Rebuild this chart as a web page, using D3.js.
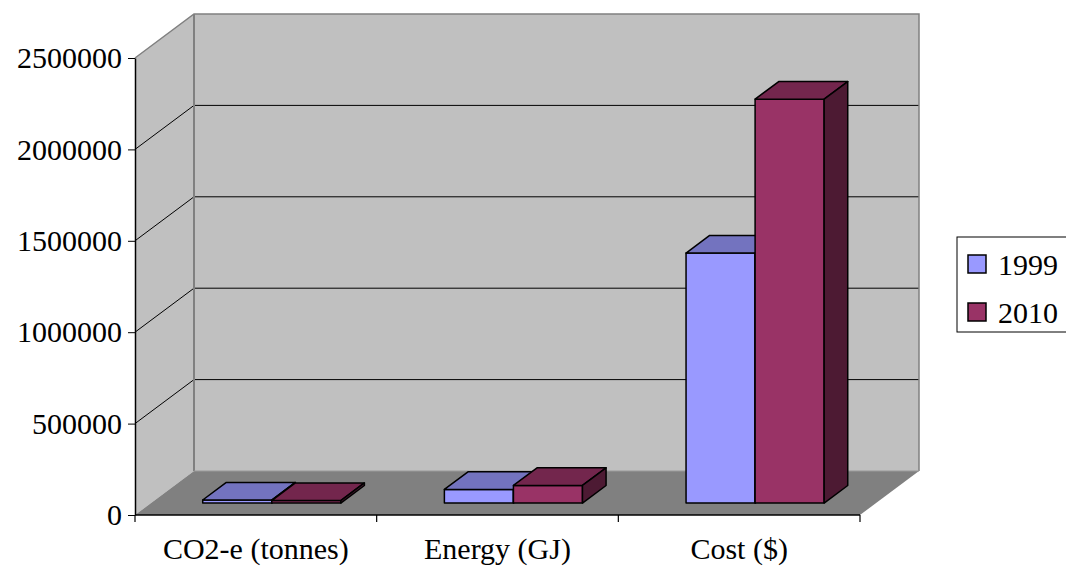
<!DOCTYPE html>
<html>
<head>
<meta charset="utf-8">
<script src="https://cdn.jsdelivr.net/npm/d3@7"></script>
<style>
  html, body { margin: 0; padding: 0; background: #fff; }
  svg { display: block; }
</style>
</head>
<body>
<svg id="chart" width="1066" height="567"></svg>
<script>
// Chart data
const categories = ["CO2-e (tonnes)", "Energy (GJ)", "Cost ($)"];
const years = ["1999", "2010"];
const values1999 = [17000, 75000, 1368000];
const values2010 = [14000, 97000, 2210000];
const yTicks = [0, 500000, 1000000, 1500000, 2000000, 2500000];

const seriesValues = [values1999, values2010];
const faceColors = {
  "1999": { front: "#9999FF", top: "#7373BF", side: "#4D4D80" },
  "2010": { front: "#993366", top: "#73264D", side: "#4D1A33" }
};
const FONT = "'Liberation Serif', 'Times New Roman', Times, 'DejaVu Serif', serif";

const svg = d3.select("#chart").attr("font-family", FONT);

// Plot geometry: front plane and depth offset of the 3D box
const plotLeft = 135, plotRight = 860, plotBottom = 515, plotTop = 58;
const depth = { dx: 59, dy: -44 };
const barFront = 0.27, barBack = 0.67;   // bar placement along the depth

const y = d3.scaleLinear().domain([0, 2500000]).range([plotBottom, plotTop]);
const x = d3.scaleBand().domain(categories).range([plotLeft, plotRight]);
const xs = d3.scaleBand().domain(years).range([0, x.bandwidth()]).paddingOuter(0.75);

const g = svg.append("g");

// Side wall, back wall and floor
const backY = v => y(v) + depth.dy;
g.append("polygon")
  .attr("points", [[plotLeft, plotBottom], [plotLeft, plotTop], [plotLeft + depth.dx, plotTop + depth.dy], [plotLeft + depth.dx, plotBottom + depth.dy]].join(" "))
  .attr("fill", "#C0C0C0");
g.append("rect")
  .attr("x", plotLeft + depth.dx).attr("y", plotTop + depth.dy)
  .attr("width", plotRight - plotLeft).attr("height", plotBottom - plotTop)
  .attr("fill", "#C0C0C0");
g.append("polygon")
  .attr("points", [[plotLeft, plotBottom], [plotRight, plotBottom], [plotRight + depth.dx, plotBottom + depth.dy], [plotLeft + depth.dx, plotBottom + depth.dy]].join(" "))
  .attr("fill", "#808080");

// Gridlines on side and back walls
const inner = yTicks.filter(v => v > 0 && v < 2500000);
g.selectAll("line.grid-side").data(inner).join("line")
  .attr("class", "grid-side")
  .attr("x1", plotLeft).attr("y1", d => y(d))
  .attr("x2", plotLeft + depth.dx).attr("y2", d => backY(d))
  .attr("stroke", "#000").attr("stroke-width", 1);
g.selectAll("line.grid-back").data(inner).join("line")
  .attr("class", "grid-back")
  .attr("x1", plotLeft + depth.dx).attr("y1", d => backY(d))
  .attr("x2", plotRight + depth.dx).attr("y2", d => backY(d))
  .attr("stroke", "#000").attr("stroke-width", 1);

// Wall edges
const edge = "#808080";
g.append("polyline")
  .attr("points", [[plotLeft, plotTop], [plotLeft + depth.dx, plotTop + depth.dy], [plotRight + depth.dx, plotTop + depth.dy], [plotRight + depth.dx, plotBottom + depth.dy]].join(" "))
  .attr("fill", "none").attr("stroke", edge).attr("stroke-width", 1.5);
g.append("line")
  .attr("x1", plotLeft + depth.dx).attr("y1", plotTop + depth.dy)
  .attr("x2", plotLeft + depth.dx).attr("y2", plotBottom + depth.dy)
  .attr("stroke", edge).attr("stroke-width", 2);
g.append("line")
  .attr("x1", plotLeft + depth.dx).attr("y1", plotBottom + depth.dy)
  .attr("x2", plotRight + depth.dx).attr("y2", plotBottom + depth.dy)
  .attr("stroke", "#999").attr("stroke-width", 1);

// 3D bars
const bars = [];
categories.forEach((c, ci) => {
  years.forEach((yr, si) => {
    bars.push({ cat: c, year: yr, value: seriesValues[si][ci] });
  });
});

const fx = barFront * depth.dx, fy = barFront * depth.dy;
const bx = barBack * depth.dx, by = barBack * depth.dy;

const barG = g.selectAll("g.bar").data(bars).join("g").attr("class", "bar");
barG.each(function (d) {
  const sel = d3.select(this);
  const x0 = x(d.cat) + xs(d.year);
  const x1 = x0 + xs.bandwidth();
  const y0 = y(0), y1 = y(d.value);
  const col = faceColors[d.year];
  const faces = [
    // front face
    { pts: [[x0 + fx, y0 + fy], [x1 + fx, y0 + fy], [x1 + fx, y1 + fy], [x0 + fx, y1 + fy]], fill: col.front },
    // top face
    { pts: [[x0 + fx, y1 + fy], [x1 + fx, y1 + fy], [x1 + bx, y1 + by], [x0 + bx, y1 + by]], fill: col.top },
    // right side face
    { pts: [[x1 + fx, y0 + fy], [x1 + bx, y0 + by], [x1 + bx, y1 + by], [x1 + fx, y1 + fy]], fill: col.side }
  ];
  sel.selectAll("polygon").data(faces).join("polygon")
    .attr("points", f => f.pts.join(" "))
    .attr("fill", f => f.fill)
    .attr("stroke", "#000").attr("stroke-width", 1.5).attr("stroke-linejoin", "round");
});

// Value axis
const yAxis = d3.axisLeft(y).tickValues(yTicks).tickFormat(d3.format("d")).tickSize(7).tickSizeOuter(0).tickPadding(6);
const ya = svg.append("g").attr("transform", `translate(${plotLeft},0)`).call(yAxis)
  .attr("font-family", FONT).attr("font-size", 30);
ya.select(".domain").attr("stroke", "#000").attr("stroke-width", 1.5);
ya.selectAll(".tick line").attr("stroke", "#000");
ya.selectAll(".tick text").attr("font-family", FONT).attr("font-size", 30).attr("fill", "#000");

// Category axis
svg.append("line")
  .attr("x1", plotLeft).attr("x2", plotRight).attr("y1", plotBottom).attr("y2", plotBottom)
  .attr("stroke", "#000").attr("stroke-width", 1.5);
const boundaries = categories.map(c => x(c)).concat([x(categories[categories.length - 1]) + x.bandwidth()]);
svg.selectAll("line.xtick").data(boundaries).join("line")
  .attr("class", "xtick")
  .attr("x1", d => d).attr("x2", d => d)
  .attr("y1", plotBottom).attr("y2", plotBottom + 7)
  .attr("stroke", "#000").attr("stroke-width", 1.2);
svg.selectAll("text.xlabel").data(categories).join("text")
  .attr("class", "xlabel")
  .attr("x", d => x(d) + x.bandwidth() / 2)
  .attr("y", 559)
  .attr("text-anchor", "middle")
  .attr("font-family", FONT).attr("font-size", 30).attr("fill", "#000")
  .text(d => d);

// Legend
const lg = svg.append("g");
lg.append("rect")
  .attr("x", 957).attr("y", 237).attr("width", 130).attr("height", 95)
  .attr("fill", "#fff").attr("stroke", "#000").attr("stroke-width", 1);
lg.selectAll("g.item").data(years).join("g")
  .attr("class", "item")
  .attr("transform", (d, i) => `translate(968, ${255 + i * 48})`)
  .each(function (d) {
    const s = d3.select(this);
    s.append("rect").attr("width", 18).attr("height", 18)
      .attr("fill", faceColors[d].front).attr("stroke", "#000").attr("stroke-width", 1.5);
    s.append("text").attr("x", 30).attr("y", 19.5)
      .attr("font-family", FONT).attr("font-size", 30).attr("fill", "#000")
      .text(d);
  });
</script>
</body>
</html>
